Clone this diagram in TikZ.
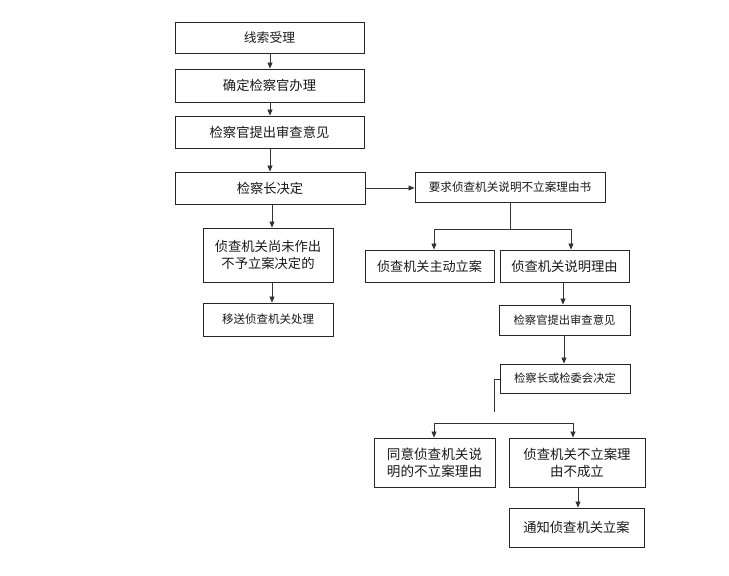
\documentclass[tikz,border=0pt]{standalone}
\usepackage{fontspec}
\setmainfont{Noto Sans CJK SC}
\usetikzlibrary{arrows.meta,positioning}
\tikzset{
  bx/.style={draw=black!85, line width=0.9pt, inner sep=0pt, align=center, text=black!90},
  ln/.style={draw=black!80, line width=0.8pt},
  arr/.style={ln, -{Triangle[length=6pt,width=5pt]}},
}
\newcommand\mkbox[7]{%
  \node[bx, font=\fontsize{#6}{17}\selectfont, minimum width={#4-#2}, minimum height={#5-#3}]
    (#1) at ({(#2+#4)/2},{(#3+#5)/2}) {#7};}
\begin{document}
\begin{tikzpicture}[x=1pt,y=-1pt]
\useasboundingbox (0,0) rectangle (729,576);
\mkbox{b1}{175}{22}{364}{53}{12.8}{线索受理}
\mkbox{b2}{175}{69}{364}{102}{13.3}{确定检察官办理}
\mkbox{b3}{175}{116}{364}{148}{13.3}{检察官提出审查意见}
\mkbox{b4}{175}{172}{365}{204}{13.3}{检察长决定}
\mkbox{b5}{415}{172}{605}{202}{11.6}{要求侦查机关说明不立案理由书}
\mkbox{b6}{203}{228}{333}{282}{13.3}{侦查机关尚未作出\\不予立案决定的}
\mkbox{b7}{203}{303}{333}{336}{11.5}{移送侦查机关处理}
\mkbox{b8}{365}{250}{494}{282}{13.1}{侦查机关主动立案}
\mkbox{b9}{500}{250}{629}{282}{13.3}{侦查机关说明理由}
\mkbox{b10}{499}{305}{630}{335}{11.3}{检察官提出审查意见}
\mkbox{b11}{500}{364}{630}{393}{11.3}{检察长或检委会决定}
\mkbox{b12}{374}{438}{495}{487}{13.6}{同意侦查机关说\\明的不立案理由}
\mkbox{b13}{509}{438}{645}{487}{13.4}{侦查机关不立案理\\由不成立}
\mkbox{b14}{509}{508}{644}{547}{13.3}{通知侦查机关立案}
% column coordinates
\coordinate (xa) at (270,0);
\coordinate (xb) at (272,0);
\coordinate (xc) at (510,0);
\coordinate (xd) at (434,0);
\coordinate (xe) at (571,0);
\coordinate (xf) at (563,0);
\coordinate (xg) at (564,0);
\coordinate (xh) at (573,0);
\coordinate (xi) at (578,0);
\coordinate (s1) at (510,229);
\coordinate (s1l) at (434,229);
\coordinate (s1r) at (571,229);
\coordinate (st1) at (494,379);
\coordinate (st2) at (494,412);
\coordinate (s2l) at (434,423);
\coordinate (s2r) at (573,423);
% connectors
\draw[arr] (b1.south -| xa) -- (b2.north -| xa);
\draw[arr] (b2.south -| xa) -- (b3.north -| xa);
\draw[arr] (b3.south -| xa) -- (b4.north -| xa);
\draw[arr] (b4.east) -- (b5.west |- b4.east);
\draw[arr] (b4.south -| xb) -- (b6.north -| xb);
\draw[arr] (b6.south -| xb) -- (b7.north -| xb);
\draw[ln] (b5.south -| xc) -- (s1);
\draw[arr] (s1r) -- (s1l) -- (b8.north -| xd);
\draw[arr] (s1l) -- (s1r) -- (b9.north -| xe);
\draw[arr] (b9.south -| xf) -- (b10.north -| xf);
\draw[arr] (b10.south -| xg) -- (b11.north -| xg);
\draw[ln] (b11.west |- st1) -- (st1) -- (st2);
\draw[arr] (s2r) -- (s2l) -- (b12.north -| xd);
\draw[arr] (s2l) -- (s2r) -- (b13.north -| xh);
\draw[arr] (b13.south -| xi) -- (b14.north -| xi);
\end{tikzpicture}
\end{document}
